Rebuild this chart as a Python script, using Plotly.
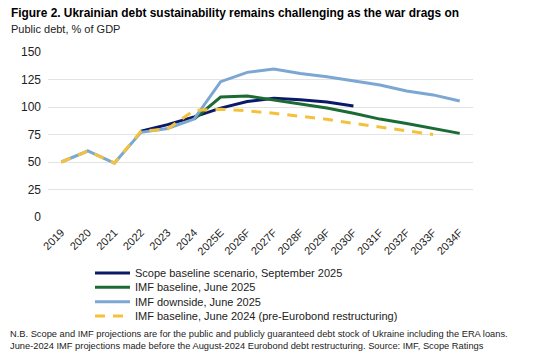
import plotly.graph_objects as go

categories = ["2019", "2020", "2021", "2022", "2023", "2024", "2025E", "2026F", "2027F",
              "2028F", "2029F", "2030F", "2031F", "2032F", "2033F", "2034F"]

scope_sep2025 = [None, None, None, 78, 84, 91, 99, 105, 108, 106.5, 104.5, 101,
                 None, None, None, None]
imf_base_2025 = [None, None, None, None, None, 89, 109, 110, 106.5, 103, 99, 94.3,
                 89, 85, 80.5, 76]
imf_down_2025 = [50, 60, 49, 77, 80.5, 89, 123, 131.5, 134.5, 130.5, 127.5, 123.5,
                 120, 114.5, 111, 105.5]
imf_base_2024 = [50, 60, 49, 78, 80, 97, 98, 96.5, 94.3, 91.8, 88.8, 85.1, 82, 78.4,
                 75, None]

series_names = ["Scope baseline scenario, September 2025",
                "IMF baseline, June 2025",
                "IMF downside, June 2025",
                "IMF baseline, June 2024 (pre-Eurobond restructuring)"]
series_colors = ["#0b1a66", "#1d6b34", "#7ba7d2", "#f4c23a"]
series_dash = ["solid", "solid", "solid", "10px,8px"]
series_values = [scope_sep2025, imf_base_2025, imf_down_2025, imf_base_2024]

# plot-area geometry in pixels
W, H = 550, 362
L, R, T, B = 48, 77, 52, 145
PW, PH = W - L - R, H - T - B


def px_x(x):
    return (x - L) / PW


def px_y(y):
    return (H - B - y) / PH


fig = go.Figure()
for name, vals, col, dash in zip(series_names, series_values, series_colors, series_dash):
    fig.add_trace(go.Scatter(x=categories, y=vals, name=name, mode="lines",
                             line=dict(color=col, width=3, dash=dash), showlegend=False))

annotations = [
    dict(text="<b>Figure 2. Ukrainian debt sustainability remains challenging as the war drags on</b>",
         xref="paper", yref="paper", x=px_x(9), y=px_y(13), xanchor="left", yanchor="middle",
         showarrow=False, font=dict(size=11.9, color="#000000")),
    dict(text="Public debt, % of GDP",
         xref="paper", yref="paper", x=px_x(9), y=px_y(29), xanchor="left", yanchor="middle",
         showarrow=False, font=dict(size=11, color="#222222")),
    dict(text="N.B. Scope and IMF projections are for the public and publicly guaranteed debt stock of Ukraine including the ERA loans.<br>"
              "June-2024 IMF projections made before the August-2024 Eurobond debt restructuring. Source: IMF, Scope Ratings",
         xref="paper", yref="paper", x=px_x(8), y=px_y(339.5), xanchor="left", yanchor="middle",
         align="left", showarrow=False, font=dict(size=9.3, color="#222222")),
]
shapes = []
legend_rows = [273, 287.3, 301.7, 316]
for name, col, dash, ry in zip(series_names, series_colors, series_dash, legend_rows):
    shapes.append(dict(type="line", xref="paper", yref="paper",
                       x0=px_x(95), x1=px_x(130), y0=px_y(ry), y1=px_y(ry),
                       line=dict(color=col, width=3, dash=dash)))
    annotations.append(dict(text=name, xref="paper", yref="paper", x=px_x(133), y=px_y(ry),
                            xanchor="left", yanchor="middle", showarrow=False,
                            font=dict(size=11, color="#222222")))

fig.update_layout(
    width=W, height=H,
    margin=dict(l=L, r=R, t=T, b=B),
    paper_bgcolor="white", plot_bgcolor="white",
    font=dict(family="Liberation Sans, Arial, sans-serif", color="#222222", size=11),
    showlegend=False,
    xaxis=dict(type="category", range=[-0.5, len(categories) - 0.5], tickangle=-45,
               showgrid=False, showline=False, ticks="", tickfont=dict(size=11),
               zeroline=False, ticklabelstandoff=6),
    yaxis=dict(range=[0, 150], dtick=25, showgrid=True, gridcolor="#e3e3e3", gridwidth=1,
               zeroline=False, showline=False, ticks="", tickfont=dict(size=12),
               ticklabelstandoff=6),
    annotations=annotations,
    shapes=shapes,
)

fig.write_html("out.html", config={"displayModeBar": False},
               post_script="document.body.style.margin='0';document.body.style.padding='0';")
